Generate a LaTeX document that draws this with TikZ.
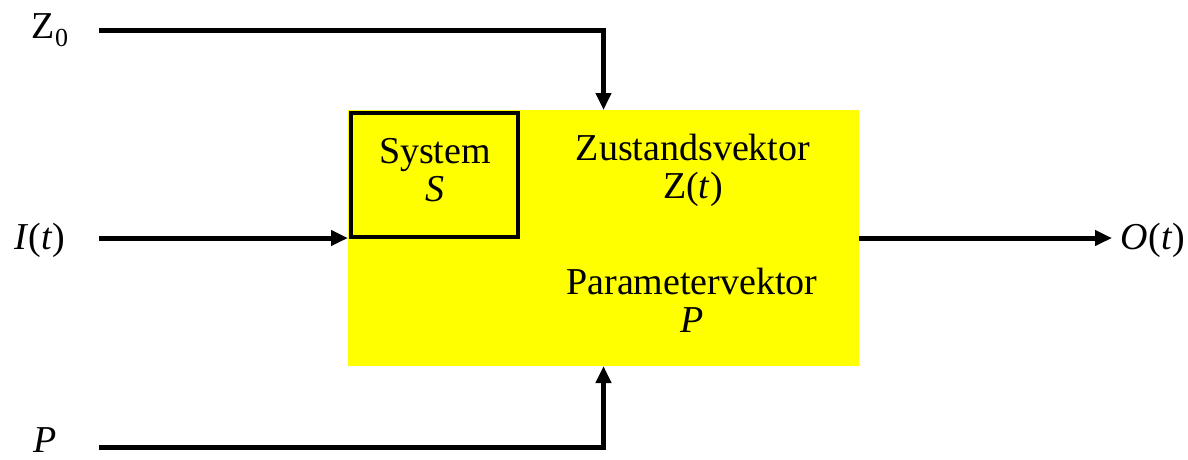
\documentclass[tikz,border=0pt]{standalone}
\usepackage{fontspec}
\setmainfont{Liberation Serif}
\usetikzlibrary{arrows.meta}
\definecolor{yel}{RGB}{255,255,0}
\tikzset{
  conn/.style={line width=5pt, -{Triangle[length=17pt,width=15pt]}, line join=miter},
  lbl/.style={inner sep=0pt, font=\fontsize{38}{44}\selectfont, align=center},
}
\begin{document}
\begin{tikzpicture}[x=1pt,y=-1pt]
\useasboundingbox (0,0) rectangle (1188,459);
\node[fill=yel, minimum width=511pt, minimum height=256pt, inner sep=0pt, outer sep=0pt, anchor=north west] (main) at (348,110) {};
\node[draw=black, line width=4pt, fill=yel, minimum width=167pt, minimum height=124pt, inner sep=0pt, outer sep=0pt, anchor=north west] (sys) at (351,113) {};
\node[lbl] (systxt) at (435,170) {System\\[-6pt]\textit{S}};
\node[lbl] (ztxt) at (693,170) {Zustandsvektor\\[-6pt]Z(\textit{t})};
\node[lbl] (ptxt) at (692,300) {Parametervektor\\[-6pt]\textit{P}};
\node[lbl] (z0) at (50,30) {Z\raisebox{-0.22em}{\fontsize{26}{30}\selectfont 0}};
\node[lbl] (it) at (40,240) {\textit{I}(\textit{t})};
\node[lbl] (ot) at (1153,240) {\textit{O}(\textit{t})};
\node[lbl] (p) at (45,440) {\textit{P}};
\coordinate (z0s) at (99,30);
\coordinate (its) at (99,238);
\coordinate (ps) at (99,447);
\coordinate (oe) at (1112,238);
\draw[conn] (z0s) -| (main.north);
\draw[conn] (its) -- (main.west);
\draw[conn] (ps) -| (main.south);
\draw[conn] (main.east) -- (oe);
\end{tikzpicture}
\end{document}
